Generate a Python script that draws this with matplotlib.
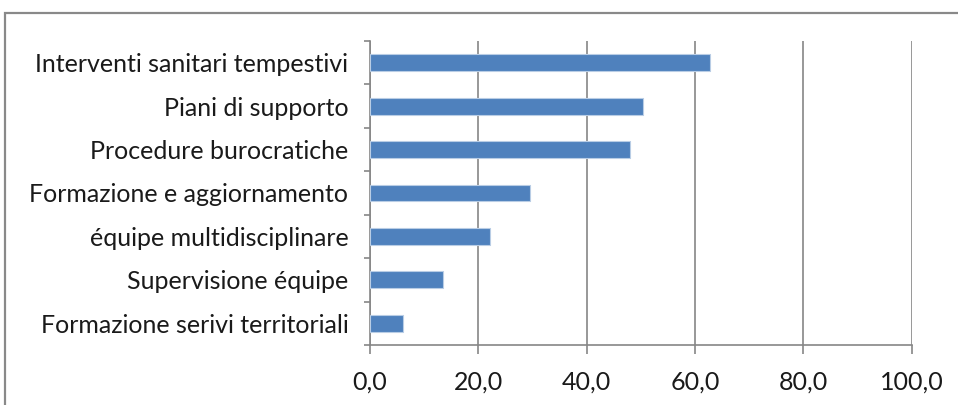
import matplotlib.pyplot as plt
from matplotlib.patches import Rectangle
from matplotlib.ticker import FuncFormatter, FixedLocator

categories = ['Interventi sanitari tempestivi', 'Piani di supporto', 'Procedure burocratiche',
              'Formazione e aggiornamento', 'équipe multidisciplinare', 'Supervisione équipe',
              'Formazione serivi territoriali']
values = [62.7, 50.4, 48.1, 29.6, 22.2, 13.5, 6.15]
xticks = [0, 20, 40, 60, 80, 100]

plt.rcParams['font.family'] = ['Lato', 'DejaVu Sans']

fig = plt.figure(figsize=(9.58, 4.05), dpi=100)
ax = fig.add_axes([370 / 958, 1 - 345 / 405, 541.5 / 958, 304 / 405])

# outer chart frame (cut off at right and bottom)
fig.patches.append(Rectangle((5 / 958, -0.1), 1.1, 1 - 13 / 405 + 0.1, transform=fig.transFigure,
                             fill=False, edgecolor='#898989', linewidth=1.6))

y = list(range(len(categories)))[::-1]
ax.barh(y, values, height=0.385, color='#4F81BD', edgecolor='#B9CDE5', linewidth=0.8, zorder=3)

ax.set_xlim(0, 100)
ax.set_ylim(-0.5, len(categories) - 0.5)
ax.set_xticks(xticks)
ax.xaxis.set_major_formatter(FuncFormatter(lambda v, p: f'{v:.1f}'.replace('.', ',')))
ax.set_yticks(y)
ax.set_yticklabels(categories)
ax.yaxis.set_minor_locator(FixedLocator([i - 0.5 for i in range(len(categories) + 1)]))
ax.tick_params(axis='y', which='major', length=0, pad=15.5, labelsize=18, labelcolor='#1a1a1a')
ax.tick_params(axis='y', which='minor', length=4, color='#868686', width=1.2)
ax.tick_params(axis='x', length=6.5, color='#868686', width=1.2, pad=12, labelsize=18,
               labelcolor='#1a1a1a')

ax.grid(axis='x', color='#868686', linewidth=1.2, zorder=0)
for s in ['top', 'right']:
    ax.spines[s].set_visible(False)
for s in ['left', 'bottom']:
    ax.spines[s].set_color('#868686')
    ax.spines[s].set_linewidth(1.2)

fig.savefig('out.png', dpi=100)
